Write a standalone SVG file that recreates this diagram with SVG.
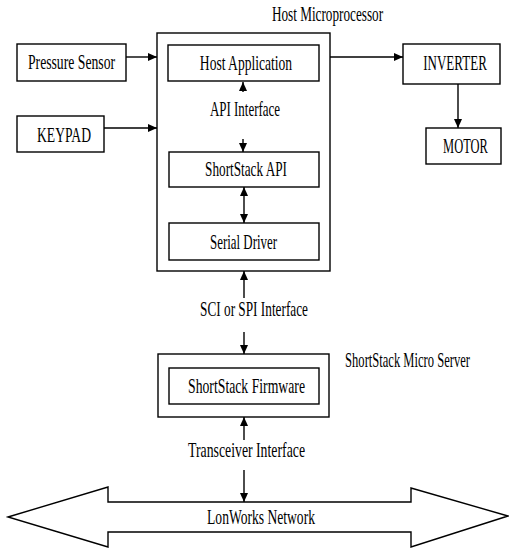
<svg xmlns="http://www.w3.org/2000/svg" width="509" height="549" viewBox="0 0 509 549">
<defs>
<marker id="ah" markerUnits="userSpaceOnUse" markerWidth="10" markerHeight="8" refX="9" refY="4" orient="auto-start-reverse">
<path d="M0,0 L9,4 L0,8 Z" fill="#000"/>
</marker>
<style>
.box{fill:#fff;stroke:#000;stroke-width:1.4}
.ln{fill:none;stroke:#000;stroke-width:1.4}
.t{font-family:"Liberation Serif","Times New Roman",serif;font-size:20px;fill:#000;text-anchor:middle}
</style>
</defs>
<rect width="509" height="549" fill="#fff"/>

<g id="host-microprocessor">
<rect class="box" x="157" y="33" width="173" height="238"/>
<text class="t" transform="translate(327.5,21) scale(0.65,1)" textLength="171" lengthAdjust="spacingAndGlyphs">Host Microprocessor</text>
</g>
<g id="pressure-sensor">
<rect class="box" x="17" y="44" width="109" height="37"/>
<text class="t" transform="translate(71.5,69) scale(0.65,1)" textLength="134" lengthAdjust="spacingAndGlyphs">Pressure Sensor</text>
</g>
<g id="keypad">
<rect class="box" x="17" y="116" width="87" height="36"/>
<text class="t" transform="translate(64,142) scale(0.65,1)" textLength="83" lengthAdjust="spacingAndGlyphs">KEYPAD</text>
</g>
<g id="host-application">
<rect class="box" x="168" y="45" width="151" height="36"/>
<text class="t" transform="translate(246,70) scale(0.65,1)" textLength="142" lengthAdjust="spacingAndGlyphs">Host Application</text>
</g>
<g id="api-interface">
<text class="t" transform="translate(245,116) scale(0.65,1)" textLength="108" lengthAdjust="spacingAndGlyphs">API Interface</text>
</g>
<g id="shortstack-api">
<rect class="box" x="169" y="152" width="150" height="35"/>
<text class="t" transform="translate(246,176) scale(0.65,1)" textLength="126" lengthAdjust="spacingAndGlyphs">ShortStack API</text>
</g>
<g id="serial-driver">
<rect class="box" x="169" y="223" width="150" height="37"/>
<text class="t" transform="translate(243.5,249) scale(0.65,1)" textLength="103" lengthAdjust="spacingAndGlyphs">Serial Driver</text>
</g>
<g id="inverter">
<rect class="box" x="403" y="44" width="97" height="40"/>
<text class="t" transform="translate(455,70) scale(0.65,1)" textLength="98" lengthAdjust="spacingAndGlyphs">INVERTER</text>
</g>
<g id="motor">
<rect class="box" x="426" y="128" width="75" height="36"/>
<text class="t" transform="translate(465.5,153) scale(0.65,1)" textLength="69" lengthAdjust="spacingAndGlyphs">MOTOR</text>
</g>
<g id="sci-spi-interface">
<text class="t" transform="translate(254,316) scale(0.65,1)" textLength="166" lengthAdjust="spacingAndGlyphs">SCI or SPI Interface</text>
</g>
<g id="micro-server">
<rect class="box" x="158" y="354" width="171" height="63"/>
<text class="t" transform="translate(407.5,367) scale(0.65,1)" textLength="192" lengthAdjust="spacingAndGlyphs">ShortStack Micro Server</text>
</g>
<g id="shortstack-firmware">
<rect class="box" x="169" y="368" width="150" height="36"/>
<text class="t" transform="translate(246.5,393) scale(0.65,1)" textLength="180" lengthAdjust="spacingAndGlyphs">ShortStack Firmware</text>
</g>
<g id="transceiver-interface">
<text class="t" transform="translate(246.5,457) scale(0.65,1)" textLength="180" lengthAdjust="spacingAndGlyphs">Transceiver Interface</text>
</g>
<g id="lonworks-network">
<path class="box" d="M8,517 L108,487 L108,502 L411,502 L411,488 L508,516 L411,547 L411,532 L108,532 L108,547 Z"/>
<text class="t" transform="translate(261,524) scale(0.65,1)" textLength="166" lengthAdjust="spacingAndGlyphs">LonWorks Network</text>
</g>

<g id="connectors">
<line class="ln" x1="126" y1="57" x2="157" y2="57" marker-end="url(#ah)"/>
<line class="ln" x1="104" y1="128" x2="157" y2="128" marker-end="url(#ah)"/>
<line class="ln" x1="330" y1="57" x2="403" y2="57" marker-end="url(#ah)"/>
<line class="ln" x1="458" y1="84" x2="458" y2="128" marker-end="url(#ah)"/>
<line class="ln" x1="243" y1="92" x2="243" y2="82" marker-end="url(#ah)"/>
<line class="ln" x1="243" y1="139" x2="243" y2="152" marker-end="url(#ah)"/>
<line class="ln" x1="244" y1="187" x2="244" y2="223" marker-start="url(#ah)" marker-end="url(#ah)"/>
<line class="ln" x1="244" y1="298" x2="244" y2="271" marker-end="url(#ah)"/>
<line class="ln" x1="244" y1="332" x2="244" y2="354" marker-end="url(#ah)"/>
<line class="ln" x1="244" y1="440" x2="244" y2="417" marker-end="url(#ah)"/>
<line class="ln" x1="244" y1="470" x2="244" y2="502" marker-end="url(#ah)"/>
</g>
</svg>
